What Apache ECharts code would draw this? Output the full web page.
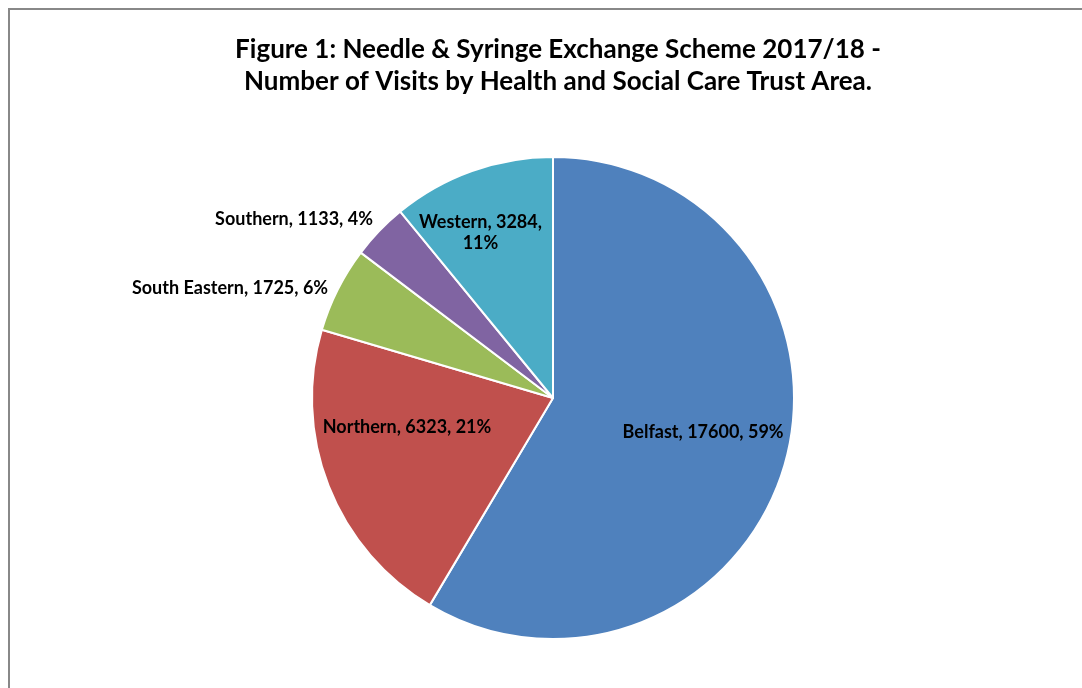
<!DOCTYPE html>
<html>
<head>
<meta charset="utf-8">
<script src="https://cdn.jsdelivr.net/npm/echarts@6/dist/echarts.min.js"></script>
<style>
  html, body { margin: 0; padding: 0; background: #fff; }
  #main { width: 1082px; height: 688px; }
</style>
</head>
<body>
<div id="main"></div>
<script>
// chart data
const areas = ['Belfast', 'Northern', 'South Eastern', 'Southern', 'Western']
const visits = [17600, 6323, 1725, 1133, 3284]
const colors = ['#4F81BD', '#C0504D', '#9BBB59', '#8064A2', '#4BACC6']
// how Excel placed each data label
const labelPos = ['inside', 'inside', 'outside', 'outside', 'inside']
const labelShift = [[31, 1], [-31, -16], [-6, 0], [-3, -10], [-31, -49]]

const chart = echarts.init(document.getElementById('main'))

const pieData = areas.map((name, i) => ({
  name: name,
  value: visits[i],
  itemStyle: { color: colors[i] },
  label: {
    position: labelPos[i],
    offset: labelShift[i]
  }
}))

const option = {
  backgroundColor: '#fff',
  animation: false,
  title: {
    text: 'Figure 1: Needle & Syringe Exchange Scheme 2017/18 -\nNumber of Visits by Health and Social Care Trust Area.',
    left: 553,
    textAlign: 'center',
    top: 29,
    textStyle: {
      fontFamily: 'Lato',
      fontWeight: 'bold',
      fontSize: 26,
      lineHeight: 32,
      color: '#000'
    }
  },
  graphic: [{
    type: 'polyline',
    shape: { points: [[9, 688], [9, 9], [1082, 9]] },
    style: { stroke: '#888', lineWidth: 2, fill: null }
  }],
  series: [{
    type: 'pie',
    center: [553, 398],
    radius: 241,
    startAngle: 90,
    clockwise: true,
    avoidLabelOverlap: false,
    percentPrecision: 2,
    itemStyle: { borderColor: '#fff', borderWidth: 2 },
    label: {
      color: '#000',
      fontFamily: 'Lato',
      fontWeight: 'bold',
      fontSize: 18,
      lineHeight: 21,
      distanceToLabelLine: 2,
      formatter: p => {
        const pct = Math.round(p.percent) + '%'
        return p.name === 'Western'
          ? p.name + ', ' + p.value + ',\n' + pct
          : p.name + ', ' + p.value + ', ' + pct
      }
    },
    labelLine: { show: false, length: 2, length2: 0 },
    emphasis: { disabled: true },
    data: pieData
  }]
}

chart.setOption(option)
</script>
</body>
</html>
